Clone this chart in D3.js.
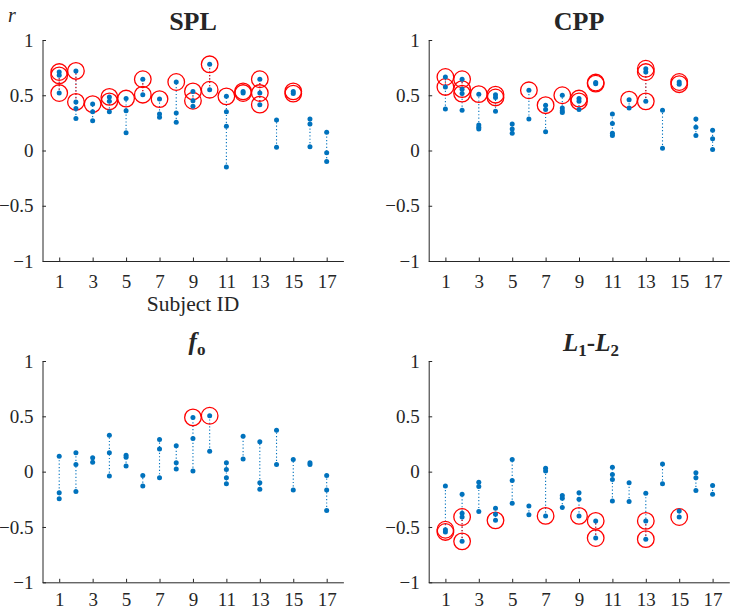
<!DOCTYPE html>
<html><head><meta charset="utf-8">
<script src="https://cdn.jsdelivr.net/npm/d3@7"></script>
<style>
html,body{margin:0;padding:0;background:#fff;}
svg{display:block;font-family:"Liberation Serif","Times New Roman",serif;}
</style></head>
<body>
<svg id="chart" width="736" height="609"></svg>
<script>
// ---------- data ----------
const subjects = [1,2,3,4,5,6,7,8,9,10,11,12,13,14,15,16,17];
const xTicks = [1,3,5,7,9,11,13,15,17];
const yTicks = [-1,-0.5,0,0.5,1];

const splValues = [
  [0.71,0.68,0.52],[0.72,0.44,0.38,0.29],[0.42,0.35,0.27],[0.485,0.445,0.35],
  [0.47,0.36,0.16],[0.645,0.505],[0.465,0.33,0.30],[0.62,0.34,0.255],
  [0.535,0.45,0.40],[0.78,0.55],[0.49,0.35,0.22,-0.15],[0.535,0.52],
  [0.645,0.52,0.415],[0.275,0.03],[0.535,0.515],[0.285,0.24,0.035],[0.165,-0.02,-0.10]
];
const splCircled = [
  [0.71,0.68,0.52],[0.72,0.44],[0.42],[0.485,0.445],[0.47],[0.645,0.505],[0.465],[0.62],
  [0.535,0.45],[0.78,0.55],[0.49],[0.535,0.52],[0.645,0.52,0.415],[],[0.535,0.515],[],[]
];

const cppValues = [
  [0.665,0.575,0.375],[0.645,0.555,0.515,0.365],[0.51,0.23,0.21,0.195],[0.505,0.48,0.355],
  [0.24,0.195,0.155],[0.545,0.285],[0.41,0.37,0.17],[0.50,0.385,0.36,0.345],
  [0.47,0.445,0.37],[0.615,0.605],[0.33,0.245,0.155,0.135],[0.46,0.385],
  [0.74,0.71,0.445],[0.365,0.02],[0.62,0.60],[0.285,0.21,0.135],[0.184,0.106,0.009]
];
const cppCircled = [
  [0.665,0.575],[0.645,0.555,0.515],[0.51],[0.505,0.48],[],[0.545],[0.41],[0.50],
  [0.47,0.445],[0.615,0.605],[],[0.46],[0.74,0.71,0.445],[],[0.62,0.60],[],[]
];

const foValues = [
  [0.14,-0.19,-0.245],[0.17,0.065,-0.18],[0.125,0.085],[0.33,0.17,-0.04],
  [0.148,0.13,0.05],[-0.035,-0.13],[0.29,0.205,-0.055],[0.235,0.08,0.025],
  [0.49,0.30,0.005],[0.505,0.185],[0.08,0.02,-0.055,-0.11],[0.32,0.115],
  [0.27,-0.10,-0.16],[0.375,0.065],[0.11,-0.165],[0.08,0.065],[-0.035,-0.165,-0.35]
];
const foCircled = [
  [],[],[],[],[],[],[],[],[0.49],[0.505],[],[],[],[],[],[],[]
];

const l1l2Values = [
  [-0.13,-0.525,-0.545],[-0.205,-0.375,-0.41,-0.63],[-0.095,-0.135,-0.36],[-0.33,-0.385,-0.44],
  [0.11,-0.08,-0.285],[-0.31,-0.39],[0.03,0.005,-0.40],[-0.215,-0.24,-0.325],
  [-0.19,-0.25,-0.40],[-0.445,-0.60],[0.04,-0.025,-0.07,-0.265],[-0.10,-0.27],
  [-0.195,-0.445,-0.61],[0.07,-0.11],[-0.355,-0.41],[-0.01,-0.055,-0.17],[-0.125,-0.205]
];
const l1l2Circled = [
  [-0.525,-0.545],[-0.41,-0.63],[],[-0.44],[],[],[-0.40],[],
  [-0.40],[-0.445,-0.60],[],[],[-0.445,-0.61],[],[-0.41],[],[]
];

// ---------- layout ----------
const SERIF = '"Liberation Serif","Times New Roman",Times,serif';
const svg = d3.select("#chart");
const AX = "#262626", BLUE = "#0072BD", RED = "#FF0000";
const panels = [
  {values: splValues, circled: splCircled, x0: 42.5, x1: 343.4, y0: 261, y1: 40, pad: 13.5},
  {values: cppValues, circled: cppCircled, x0: 428.7, x1: 729.3, y0: 261, y1: 40, pad: 13.5},
  {values: foValues, circled: foCircled, x0: 42.5, x1: 343.4, y0: 582.3, y1: 361, pad: 10.5},
  {values: l1l2Values, circled: l1l2Circled, x0: 428.7, x1: 729.3, y0: 582.3, y1: 361, pad: 10.5}
];

const fmt = d => d === 0 ? "0" : String(d).replace("-", "\u2212");

panels.forEach(p => {
  const x = d3.scaleLinear().domain([0, 18]).range([p.x0, p.x1]);
  const y = d3.scaleLinear().domain([-1, 1]).range([p.y0, p.y1]);
  const g = svg.append("g");

  const xa = g.append("g").attr("transform", `translate(0,${p.y0})`)
    .call(d3.axisBottom(x).tickValues(xTicks).tickSizeInner(-3.5).tickSizeOuter(0).tickPadding(p.pad).tickFormat(d3.format("d")));
  const ya = g.append("g").attr("transform", `translate(${p.x0},0)`)
    .call(d3.axisLeft(y).tickValues(yTicks).tickSizeInner(-3.5).tickSizeOuter(0).tickPadding(9).tickFormat(fmt));
  [xa, ya].forEach(a => {
    a.attr("font-family", SERIF).attr("font-size", 19);
    a.select(".domain").attr("stroke", AX).attr("stroke-width", 1);
    a.selectAll(".tick line").attr("stroke", AX).attr("stroke-width", 1);
    a.selectAll(".tick text").attr("fill", AX);
  });

  const mg = g.append("g");
  subjects.forEach((s, i) => {
    const vals = p.values[i], circ = p.circled[i];
    const ext = d3.extent(vals);
    mg.append("line").attr("x1", x(s)).attr("x2", x(s)).attr("y1", y(ext[0])).attr("y2", y(ext[1]))
      .attr("stroke", BLUE).attr("stroke-width", 1.1).attr("stroke-dasharray", "1.2,2.2");
    if (circ.length > 1) {
      const ce = d3.extent(circ);
      mg.append("line").attr("x1", x(s)).attr("x2", x(s)).attr("y1", y(ce[0])).attr("y2", y(ce[1]))
        .attr("stroke", RED).attr("stroke-width", 1.1).attr("stroke-dasharray", "1.2,2.2");
    }
    circ.forEach(v => {
      mg.append("circle").attr("cx", x(s)).attr("cy", y(v)).attr("r", 8.3)
        .attr("fill", "none").attr("stroke", RED).attr("stroke-width", 1.3);
    });
    vals.forEach(v => {
      mg.append("circle").attr("cx", x(s)).attr("cy", y(v)).attr("r", 2.5).attr("fill", BLUE);
    });
  });
});

// ---------- texts ----------
const T = svg.append("g").attr("fill", AX).attr("font-family", SERIF);
T.append("text").attr("x", 8).attr("y", 22).attr("font-size", 20).attr("font-style", "italic").text("r");
T.append("text").attr("x", 193).attr("y", 311).attr("text-anchor", "middle").attr("font-size", 21.5).text("Subject ID");

T.append("text").attr("x", 193).attr("y", 30).attr("text-anchor", "middle")
  .attr("font-size", 26).attr("font-weight", "bold").text("SPL");
T.append("text").attr("x", 579).attr("y", 30).attr("text-anchor", "middle")
  .attr("font-size", 26).attr("font-weight", "bold").text("CPP");

const fo = T.append("text").attr("x", 197).attr("y", 350).attr("text-anchor", "middle")
  .attr("font-size", 25).attr("font-weight", "bold");
fo.append("tspan").attr("font-style", "italic").text("f");
fo.append("tspan").attr("dy", 5).attr("font-size", 17).text("o");

const ll = T.append("text").attr("x", 591).attr("y", 351).attr("text-anchor", "middle")
  .attr("font-size", 25).attr("font-weight", "bold");
ll.append("tspan").attr("font-style", "italic").text("L");
ll.append("tspan").attr("dy", 5).attr("font-size", 17).text("1");
ll.append("tspan").attr("dy", -5).text("-");
ll.append("tspan").attr("font-style", "italic").text("L");
ll.append("tspan").attr("dy", 5).attr("font-size", 17).text("2");
</script>
</body></html>
